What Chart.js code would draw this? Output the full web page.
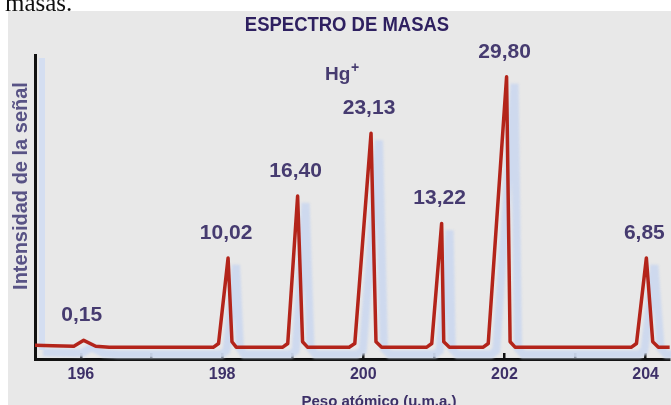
<!DOCTYPE html>
<html lang="es">
<head>
<meta charset="UTF-8">
<title>Espectro de masas</title>
<script src="https://cdn.jsdelivr.net/npm/chart.js@4"></script>
<style>
    body { margin: 0; background: #fff; }
    canvas { display: block; }
</style>
</head>
<body>
<canvas id="ms" width="671" height="405"></canvas>
<script>
// tick positions on the mass axis (u.m.a.)
const massTicks = [196, 197, 198, 199, 200, 201, 202, 203, 204];

// peak tops, with the abundance printed above each one
const peakMass = [196.04, 198.085, 199.07, 200.11, 201.11, 202.03, 204.01];
const peakIntensity = [0.75, 9.8, 16.6, 23.5, 13.6, 29.7, 9.8];
const peakLabels = ['0,15', '10,02', '16,40', '23,13', '13,22', '29,80', '6,85'];

// the detector trace, point by point
const traceMass = [
    195.35, 195.6, 195.9, 196.04, 196.21, 196.4,
    197.88, 197.95, 198.085, 198.14, 198.2,
    198.86, 198.93, 199.07, 199.14, 199.21,
    199.8, 199.88, 200.11, 200.18, 200.26,
    200.9, 200.97, 201.11, 201.14, 201.22,
    201.7, 201.77, 202.03, 202.08, 202.15,
    203.8, 203.87, 204.01, 204.1, 204.18, 204.34
];
const traceIntensity = [
    0.2, 0.15, 0.1, 0.75, 0.1, 0,
    0, 0.4, 9.8, 0.6, 0,
    0, 0.4, 16.6, 0.6, 0,
    0, 0.4, 23.5, 0.6, 0,
    0, 0.4, 13.6, 0.6, 0,
    0, 0.4, 29.7, 0.6, 0,
    0, 0.4, 9.8, 0.6, 0, 0
];

const trace = traceMass.map((m, i) => ({ x: m, y: traceIntensity[i] }));

const LABEL = '#463b70';

const decor = {
    id: 'decor',
    beforeDraw(chart) {
        const ctx = chart.ctx;
        ctx.save();
        ctx.fillStyle = '#ffffff';
        ctx.fillRect(0, 0, chart.width, chart.height);
        ctx.fillStyle = '#111';
        ctx.font = '25px "Liberation Serif"';
        ctx.textBaseline = 'alphabetic';
        ctx.fillText('masas.', 5, 11);
        ctx.fillStyle = '#e8e8e8';
        ctx.fillRect(8, 11, chart.width - 8, chart.height - 11);
        // pale shadow of the vertical axis
        const a = chart.chartArea;
        ctx.fillStyle = 'rgba(210,221,242,0.9)';
        ctx.fillRect(a.left + 4, a.top + 3, 6, a.bottom - a.top - 12);
        ctx.restore();
    },
    beforeDatasetDraw(chart, args) {
        if (args.index !== 1) return;
        chart.ctx.save();
        chart.ctx.translate(8, 7);
        chart.ctx.filter = 'blur(1px)';
    },
    afterDatasetDraw(chart, args) {
        if (args.index !== 1) return;
        chart.ctx.restore();
    },
    afterDraw(chart) {
        const ctx = chart.ctx;
        const xs = chart.scales.x, ys = chart.scales.y;
        ctx.save();
        ctx.textAlign = 'center';

        // title
        ctx.fillStyle = '#2e2060';
        ctx.font = 'bold 21px "Liberation Sans"';
        ctx.textBaseline = 'alphabetic';
        ctx.save();
        ctx.translate(347, 31);
        ctx.scale(0.88, 1);
        ctx.fillText('ESPECTRO DE MASAS', 0, 0);
        ctx.restore();

        // Hg+
        ctx.fillStyle = LABEL;
        ctx.textAlign = 'left';
        ctx.font = 'bold 19px "Liberation Sans"';
        ctx.fillText('Hg', 325, 80);
        ctx.font = 'bold 14px "Liberation Sans"';
        ctx.fillText('+', 351, 72);

        // abundance above each peak
        ctx.textAlign = 'center';
        ctx.textBaseline = 'middle';
        ctx.font = 'bold 21px "Liberation Sans"';
        peakLabels.forEach((txt, i) => {
            const px = xs.getPixelForValue(peakMass[i]) - 2;
            const py = ys.getPixelForValue(peakIntensity[i]) - 25;
            ctx.fillText(txt, px, py);
        });

        // axis titles
        ctx.fillStyle = '#585385';
        ctx.font = 'bold 20px "Liberation Sans"';
        ctx.save();
        ctx.translate(21, 186);
        ctx.rotate(-Math.PI / 2);
        ctx.fillText('Intensidad de la señal', 0, 0);
        ctx.restore();

        ctx.fillStyle = '#3d3068';
        ctx.font = 'bold 15px "Liberation Sans"';
        ctx.textBaseline = 'alphabetic';
        ctx.fillText('Peso atómico (u.m.a.)', 379, 406);
        ctx.restore();
    }
};

new Chart(document.getElementById('ms'), {
    type: 'line',
    data: {
        datasets: [
            {
                data: trace,
                borderColor: '#b3241a',
                borderWidth: 3.5,
                borderJoinStyle: 'round',
                pointRadius: 0,
                tension: 0,
                clip: false
            },
            {
                data: trace,
                borderColor: 'rgba(204,216,238,0.95)',
                borderWidth: 8,
                pointRadius: 0,
                tension: 0,
                clip: false
            }
        ]
    },
    options: {
        responsive: false,
        animation: false,
        devicePixelRatio: 1,
        layout: { padding: { top: 55, right: 0, bottom: 0, left: 0 } },
        plugins: {
            legend: { display: false },
            tooltip: { enabled: false }
        },
        scales: {
            x: {
                type: 'linear',
                min: 195.35,
                max: 204.34,
                afterBuildTicks: axis => {
                    axis.ticks = massTicks.map(v => ({ value: v }));
                },
                afterFit: axis => { axis.height = 46; },
                border: { color: '#111', width: 3 },
                grid: {
                    drawOnChartArea: false,
                    color: '#111',
                    lineWidth: 2.5,
                    tickLength: -6
                },
                ticks: {
                    autoSkip: false,
                    maxRotation: 0,
                    padding: 12,
                    color: '#3d3068',
                    font: { family: 'Liberation Sans', size: 16, weight: 'bold' },
                    callback: v => (v % 2 === 0 ? String(v) : '')
                }
            },
            y: {
                min: -1.3,
                max: 32.1,
                afterFit: axis => { axis.width = 35; },
                border: { color: '#111', width: 3 },
                grid: { display: false },
                ticks: { display: false }
            }
        }
    },
    plugins: [decor]
});
</script>
</body>
</html>
